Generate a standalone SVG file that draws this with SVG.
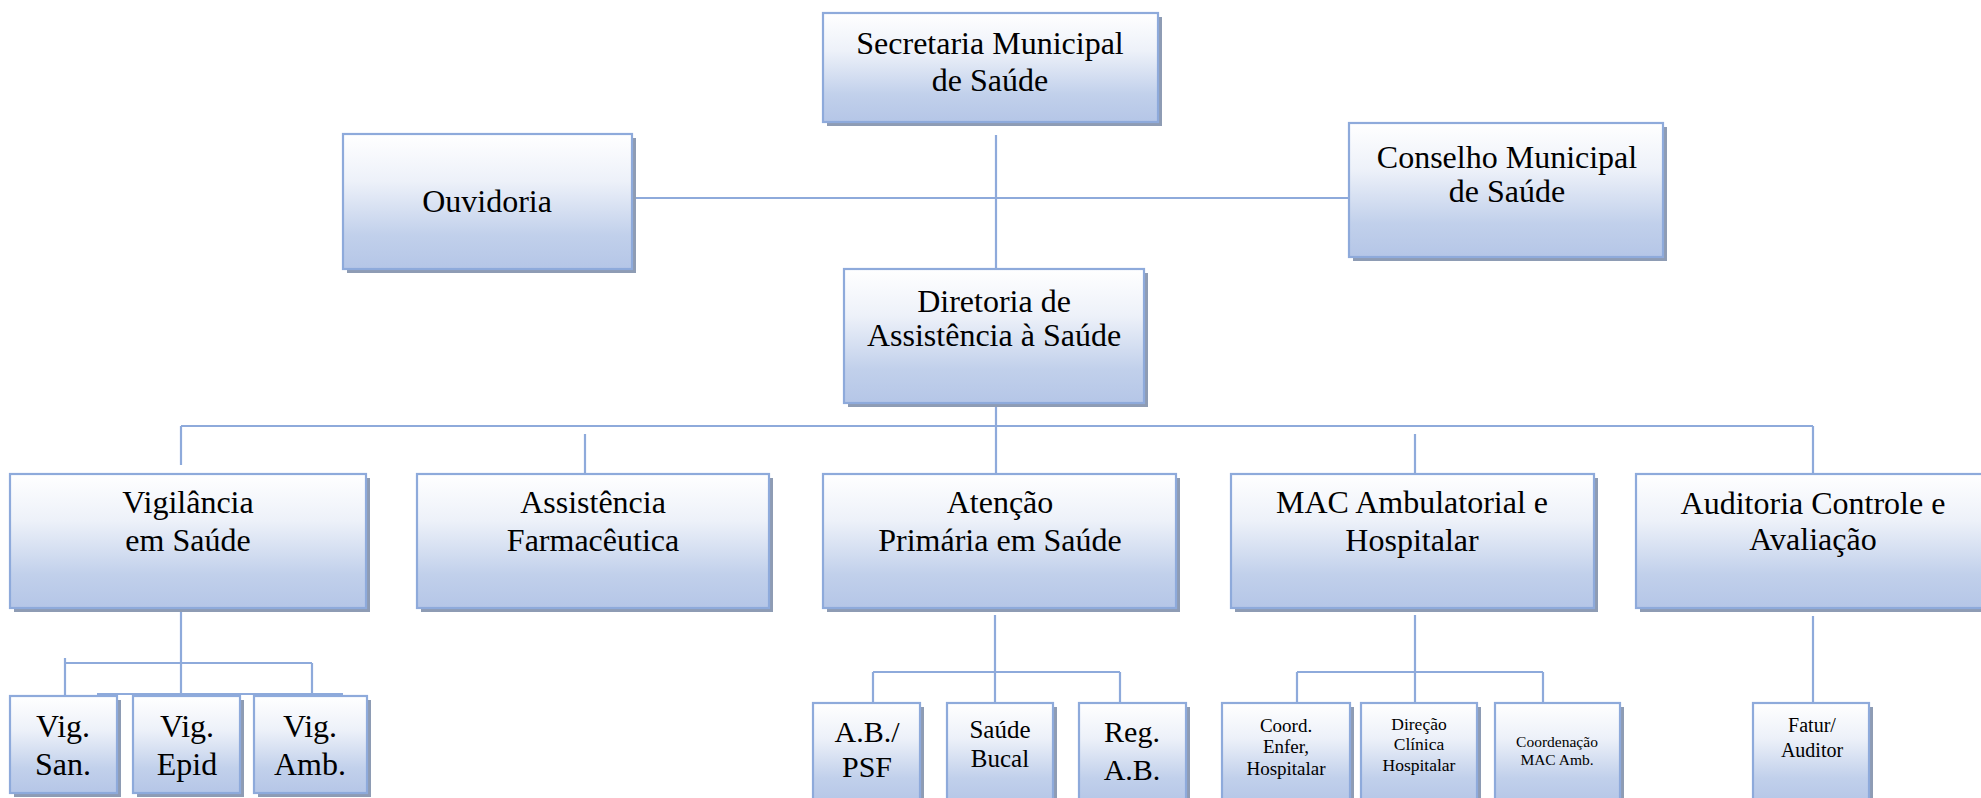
<svg xmlns="http://www.w3.org/2000/svg" width="1981" height="798" viewBox="0 0 1981 798" font-family="'Liberation Serif', 'Times New Roman', serif">
<style>
.sh{fill:#8e9cb4}
.box{fill:url(#g);stroke:#8eaadb;stroke-width:2.2}
.c{fill:none;stroke:#8eaadb;stroke-width:2.2}
text{font-family:'Liberation Serif','Times New Roman',serif;fill:#000;text-anchor:middle}
.t32{font-size:32px}
.t30{font-size:30px}
</style>
<defs>
<linearGradient id="g" x1="0" y1="0" x2="0" y2="1">
<stop offset="0" stop-color="#ffffff"/>
<stop offset="0.35" stop-color="#edf1f9"/>
<stop offset="0.75" stop-color="#c1d0eb"/>
<stop offset="1" stop-color="#b5c6e7"/>
</linearGradient>
</defs>
<rect width="1981" height="798" fill="#fff"/>
<g id="connectors">
<path class="c" d="M996 135V269M632 198H1349M996 403V474M181 426H1813M181 426V465M585 434V474M1415 434V474M1813 426V474"/>
<path class="c" d="M181 612V696M65 663H312M65 658V696M312 663V702M97 694H343"/>
<path class="c" d="M995 615V703M873 672H1120M873 672V703M1120 672V703"/>
<path class="c" d="M1415 615V703M1297 672H1543M1297 672V703M1543 672V703"/>
<path class="c" d="M1813 616V703"/>
</g>
<g id="secretaria"><rect class="sh" x="827" y="17" width="335" height="109"/><rect class="box" x="823" y="13" width="335" height="109"/><text class="t32" x="990" y="54">Secretaria Municipal</text><text class="t32" x="990" y="91">de Saúde</text></g>
<g id="ouvidoria"><rect class="sh" x="347" y="138" width="289" height="135"/><rect class="box" x="343" y="134" width="289" height="135"/><text class="t32" x="487" y="212">Ouvidoria</text></g>
<g id="conselho"><rect class="sh" x="1353" y="127" width="314" height="134"/><rect class="box" x="1349" y="123" width="314" height="134"/><text class="t32" x="1507" y="168">Conselho Municipal</text><text class="t32" x="1507" y="202">de Saúde</text></g>
<g id="diretoria"><rect class="sh" x="848" y="273" width="300" height="134"/><rect class="box" x="844" y="269" width="300" height="134"/><text class="t32" x="994" y="312">Diretoria de</text><text class="t32" x="994" y="346">Assistência à Saúde</text></g>
<g id="vigilancia"><rect class="sh" x="14" y="478" width="356" height="134"/><rect class="box" x="10" y="474" width="356" height="134"/><text class="t32" x="188" y="513">Vigilância</text><text class="t32" x="188" y="551">em Saúde</text></g>
<g id="assistencia"><rect class="sh" x="421" y="478" width="352" height="134"/><rect class="box" x="417" y="474" width="352" height="134"/><text class="t32" x="593" y="513">Assistência</text><text class="t32" x="593" y="551">Farmacêutica</text></g>
<g id="atencao"><rect class="sh" x="827" y="478" width="353" height="134"/><rect class="box" x="823" y="474" width="353" height="134"/><text class="t32" x="1000" y="513">Atenção</text><text class="t32" x="1000" y="551">Primária em Saúde</text></g>
<g id="mac"><rect class="sh" x="1235" y="478" width="363" height="134"/><rect class="box" x="1231" y="474" width="363" height="134"/><text class="t32" x="1412" y="513">MAC Ambulatorial e</text><text class="t32" x="1412" y="551">Hospitalar</text></g>
<g id="auditoria"><rect class="sh" x="1640" y="478" width="354" height="134"/><rect class="box" x="1636" y="474" width="354" height="134"/><text class="t32" x="1813" y="514">Auditoria Controle e</text><text class="t32" x="1813" y="550">Avaliação</text></g>
<g id="vig-san"><rect class="sh" x="14" y="700" width="107" height="97"/><rect class="box" x="10" y="696" width="107" height="97"/><text class="t32" x="63" y="737">Vig.</text><text class="t32" x="63" y="775">San.</text></g>
<g id="vig-epid"><rect class="sh" x="137" y="700" width="107" height="97"/><rect class="box" x="133" y="696" width="107" height="97"/><text class="t32" x="187" y="737">Vig.</text><text class="t32" x="187" y="775">Epid</text></g>
<g id="vig-amb"><rect class="sh" x="258" y="700" width="113" height="97"/><rect class="box" x="254" y="696" width="113" height="97"/><text class="t32" x="310" y="737">Vig.</text><text class="t32" x="310" y="775">Amb.</text></g>
<g id="ab-psf"><rect class="sh" x="817" y="707" width="107" height="100"/><rect class="box" x="813" y="703" width="107" height="100"/><text class="t30" x="867" y="742">A.B./</text><text class="t30" x="867" y="777">PSF</text></g>
<g id="saude-bucal"><rect class="sh" x="951" y="707" width="106" height="100"/><rect class="box" x="947" y="703" width="106" height="100"/><text x="1000" y="738" font-size="25">Saúde</text><text x="1000" y="767" font-size="25">Bucal</text></g>
<g id="reg-ab"><rect class="sh" x="1083" y="707" width="107" height="100"/><rect class="box" x="1079" y="703" width="107" height="100"/><text class="t30" x="1132" y="742">Reg.</text><text class="t30" x="1132" y="780">A.B.</text></g>
<g id="coord-enfer"><rect class="sh" x="1226" y="707" width="128" height="100"/><rect class="box" x="1222" y="703" width="128" height="100"/><text x="1286" y="732" font-size="19">Coord.</text><text x="1286" y="753" font-size="19">Enfer,</text><text x="1286" y="775" font-size="19">Hospitalar</text></g>
<g id="direcao-clinica"><rect class="sh" x="1365" y="707" width="116" height="100"/><rect class="box" x="1361" y="703" width="116" height="100"/><text x="1419" y="730" font-size="17.5">Direção</text><text x="1419" y="750" font-size="17.5">Clínica</text><text x="1419" y="771" font-size="17.5">Hospitalar</text></g>
<g id="coord-mac"><rect class="sh" x="1499" y="707" width="125" height="100"/><rect class="box" x="1495" y="703" width="125" height="100"/><text x="1557" y="747" font-size="15.5">Coordenação</text><text x="1557" y="765" font-size="15.5">MAC Amb.</text></g>
<g id="fatur"><rect class="sh" x="1757" y="707" width="116" height="100"/><rect class="box" x="1753" y="703" width="116" height="100"/><text x="1812" y="732" font-size="20">Fatur/</text><text x="1812" y="757" font-size="20">Auditor</text></g>
</svg>
